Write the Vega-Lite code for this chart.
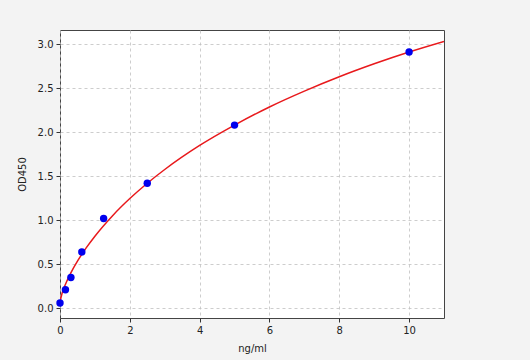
{
  "$schema": "https://vega.github.io/schema/vega-lite/v6.json",
  "width": 384,
  "height": 288,
  "autosize": {"type": "none"},
  "padding": {"left": 60, "top": 30, "right": 86, "bottom": 42},
  "background": "#f3f3f3",
  "view": {"fill": "white", "stroke": "#444", "strokeWidth": 1},
  "config": {
    "font": "DejaVu Sans",
    "axis": {
      "domain": false,
      "grid": true,
      "gridColor": "#c0c0c0",
      "gridDash": [3, 3],
      "gridWidth": 0.8,
      "tickColor": "#333",
      "tickSize": 4,
      "labelFontSize": 10,
      "labelColor": "#222",
      "labelFlush": false,
      "titleFontSize": 10,
      "titleFontWeight": "normal",
      "titleColor": "#222",
      "labelPadding": 3
    }
  },
  "datasets": {
    "points": [
      {"conc": 0, "od": 0.06},
      {"conc": 0.156, "od": 0.21},
      {"conc": 0.3125, "od": 0.35},
      {"conc": 0.625, "od": 0.64},
      {"conc": 1.25, "od": 1.02},
      {"conc": 2.5, "od": 1.42},
      {"conc": 5, "od": 2.08},
      {"conc": 10, "od": 2.91}
    ],
    "curve": [
      {"conc": 0, "od": 0.07},
      {"conc": 0.05, "od": 0.157},
      {"conc": 0.1, "od": 0.216},
      {"conc": 0.2, "od": 0.312},
      {"conc": 0.3, "od": 0.394},
      {"conc": 0.5, "od": 0.535},
      {"conc": 0.75, "od": 0.686},
      {"conc": 1, "od": 0.819},
      {"conc": 1.5, "od": 1.049},
      {"conc": 2, "od": 1.246},
      {"conc": 2.5, "od": 1.42},
      {"conc": 3, "od": 1.576},
      {"conc": 4, "od": 1.849},
      {"conc": 5, "od": 2.08},
      {"conc": 6, "od": 2.286},
      {"conc": 7, "od": 2.466},
      {"conc": 8, "od": 2.629},
      {"conc": 9, "od": 2.776},
      {"conc": 10, "od": 2.91},
      {"conc": 11, "od": 3.03}
    ]
  },
  "layer": [
    {
      "data": {"name": "curve"},
      "mark": {"type": "line", "color": "#e8191c", "strokeWidth": 1.5, "interpolate": "monotone", "clip": true},
      "encoding": {
        "x": {"field": "conc", "type": "quantitative", "scale": {"domain": [0, 11], "nice": false, "zero": false}, "axis": {"values": [0, 2, 4, 6, 8, 10], "title": "ng/ml", "titlePadding": 8}},
        "y": {"field": "od", "type": "quantitative", "scale": {"domain": [-0.11, 3.16], "nice": false, "zero": false}, "axis": {"values": [0, 0.5, 1, 1.5, 2, 2.5, 3], "format": ".1f", "title": "OD450", "titlePadding": 10}}
      }
    },
    {
      "data": {"name": "points"},
      "mark": {"type": "circle", "color": "#0000ee", "opacity": 1, "size": 55, "clip": false},
      "encoding": {
        "x": {"field": "conc", "type": "quantitative"},
        "y": {"field": "od", "type": "quantitative"}
      }
    }
  ]
}
